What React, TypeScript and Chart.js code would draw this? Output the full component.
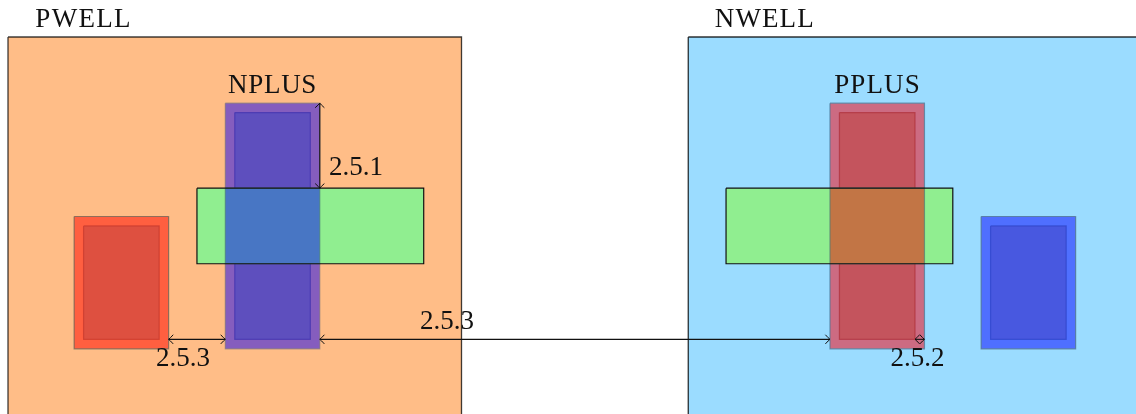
import React, { useEffect, useRef } from "react";
import { Chart, registerables } from "chart.js";

Chart.register(...registerables);

// Layout grid units (1 unit = one lambda of the drawing)
const pwell = [0, 0, 48, 44];
const nwell = [72, 0, 120, 44];
const redOuter = [7, 19, 17, 33];
const redInner = [8, 20, 16, 32];
const nplusOuter = [23, 7, 33, 33];
const nplusInner = [24, 8, 32, 32];
const activeLeft = [20, 16, 44, 24];
const overlapLeft = [23, 16, 33, 24];
const pplusOuter = [87, 7, 97, 33];
const pplusInner = [88, 8, 96, 32];
const activeRight = [76, 16, 100, 24];
const overlapRight = [87, 16, 97, 24];
const blueOuter = [103, 19, 113, 33];
const blueInner = [104, 20, 112, 32];

const arrow251 = [[33, 7], [33, 16]];
const arrow253a = [[17, 32], [23, 32]];
const arrow253b = [[33, 32], [87, 32]];
const arrow252 = [[96, 32], [97, 32]];

const labelTexts = ["PWELL", "NWELL", "NPLUS", "PPLUS", "2.5.1", "2.5.3", "2.5.3", "2.5.2"];
const labelX = [8, 80.1, 28, 92.03, 36.83, 18.52, 46.46, 96.27];
const labelY = [-1.11, -1.11, 5.88, 5.88, 14.65, 34.87, 30.95, 34.87];
const labelSpacing = [1.3, 1.1, 0.7, 1.1, 0, 0, 0, 0];

const box = (r: number[]) => [
  { x: r[0], y: r[1] },
  { x: r[2], y: r[1] },
  { x: r[2], y: r[3] },
  { x: r[0], y: r[3] },
  { x: r[0], y: r[1] },
];

const shape = (r: number[], fill: string, stroke: string, width = 1.2) => ({
  data: box(r),
  showLine: true,
  fill: fill === "none" ? false : "shape",
  backgroundColor: fill === "none" ? "transparent" : fill,
  borderColor: stroke,
  borderWidth: width,
  pointRadius: 0,
  tension: 0,
});

const arrow = (p: number[][]) => ({
  data: p.map(([x, y]) => ({ x, y })),
  showLine: true,
  fill: false,
  borderColor: "#111",
  borderWidth: 1.1,
  pointRadius: 0,
  tension: 0,
  isArrow: true,
});

// Chart.js paints the last dataset first, so the paint order is reversed here
const datasets: any[] = [
  shape(pwell, "#FFBD87", "rgba(0,0,0,0.75)", 1.3),
  shape(nwell, "#9BDCFF", "rgba(0,0,0,0.8)", 1.3),
  shape(redOuter, "#FF5F40", "rgba(70,90,85,0.6)"),
  shape(redInner, "#DE5040", "rgba(190,50,40,0.6)"),
  shape(nplusOuter, "#855DBE", "rgba(110,110,120,0.55)"),
  shape(nplusInner, "#5E4FBE", "rgba(50,40,170,0.55)"),
  shape(activeLeft, "#90EE90", "rgba(0,0,0,0)"),
  shape(overlapLeft, "#4876C4", "rgba(70,120,120,0.6)"),
  shape(activeLeft, "none", "#111"),
  shape(pplusOuter, "#CC6B82", "rgba(70,120,150,0.7)"),
  shape(pplusInner, "#C4545D", "rgba(170,40,50,0.6)"),
  shape(activeRight, "#90EE90", "rgba(0,0,0,0)"),
  shape(overlapRight, "#C27545", "rgba(80,125,115,0.7)"),
  shape(activeRight, "none", "#111"),
  shape(blueOuter, "#4F6FFF", "rgba(80,115,140,0.75)"),
  shape(blueInner, "#4858E0", "rgba(40,60,190,0.6)"),
  arrow(arrow251),
  arrow(arrow253a),
  arrow(arrow253b),
  arrow(arrow252),
].reverse();

const annotate = {
  id: "annotate",
  afterDatasetsDraw(chart: any) {
    const { ctx, scales } = chart;
    ctx.save();
    // arrow tips at both ends of each arrow dataset
    chart.data.datasets.forEach((ds: any, i: number) => {
      if (!ds.isArrow) return;
      const [a, b] = chart.getDatasetMeta(i).data;
      const ang = Math.atan2(b.y - a.y, b.x - a.x);
      const tip = (x: number, y: number, t: number) => {
        ctx.save();
        ctx.translate(x, y);
        ctx.rotate(t);
        ctx.strokeStyle = "#111";
        ctx.lineWidth = 1;
        ctx.beginPath();
        ctx.moveTo(-4.6, -4.6);
        ctx.quadraticCurveTo(-1.4, -1, 0, 0);
        ctx.quadraticCurveTo(-1.4, 1, -4.6, 4.6);
        ctx.stroke();
        ctx.restore();
      };
      tip(b.x, b.y, ang);
      tip(a.x, a.y, ang + Math.PI);
    });
    ctx.fillStyle = "#111";
    ctx.font = '27px "Liberation Serif"';
    ctx.textAlign = "center";
    ctx.textBaseline = "alphabetic";
    labelTexts.forEach((t, i) => {
      ctx.letterSpacing = `${labelSpacing[i]}px`;
      ctx.fillText(t, scales.x.getPixelForValue(labelX[i]), scales.y.getPixelForValue(labelY[i]));
    });
    ctx.restore();
  },
};

export default function App() {
  const ref = useRef<HTMLCanvasElement>(null);
  useEffect(() => {
    document.body.style.margin = "0";
    document.documentElement.style.overflow = "hidden";
    const unit = 9.448;
    const chart = new Chart(ref.current!, {
      type: "scatter",
      data: { datasets },
      plugins: [annotate],
      options: {
        responsive: false,
        animation: false,
        devicePixelRatio: 1,
        layout: { padding: 0 },
        plugins: { legend: { display: false }, tooltip: { enabled: false } },
        events: [],
        scales: {
          x: { type: "linear", display: false, min: -8 / unit, max: (1136 - 8) / unit },
          y: { type: "linear", display: false, reverse: true, min: -37 / unit, max: (414 - 37) / unit },
        },
      },
    } as any);
    return () => chart.destroy();
  }, []);
  return <canvas ref={ref} width={1136} height={414} style={{ display: "block" }} />;
}
